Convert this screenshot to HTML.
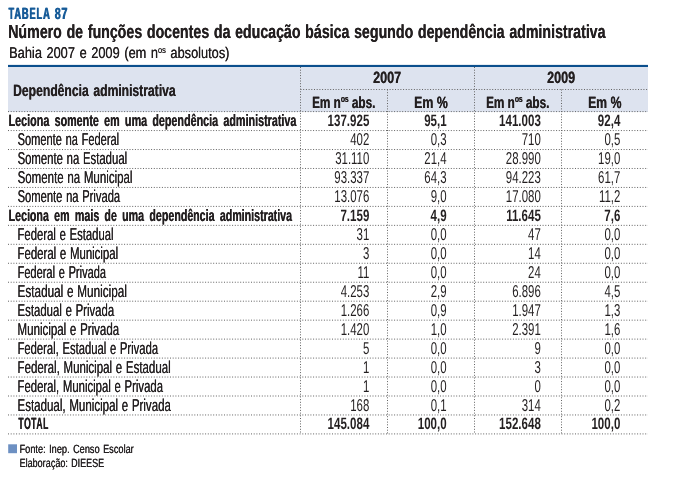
<!DOCTYPE html><html><head><meta charset="utf-8"><title>Tabela 87</title><style>
html,body{margin:0;padding:0;background:#fff;}body{width:700px;height:503px;overflow:hidden;position:relative;}
svg{position:absolute;left:0;top:0;font-family:"Liberation Sans",sans-serif;text-rendering:geometricPrecision;}
.b{font-weight:bold}
</style></head><body>
<svg width="700" height="503" viewBox="0 0 700 503">
<rect x="8" y="67" width="640" height="45.00" fill="#dde3ef"/>
<rect x="8" y="64.9" width="640" height="2.1" fill="#0b4f8d"/>
<g stroke="#636363" stroke-width="1" stroke-dasharray="1 1.7" fill="none">
<line x1="8" y1="111.60" x2="648" y2="111.60"/>
<line x1="8" y1="130.56" x2="648" y2="130.56"/>
<line x1="8" y1="149.52" x2="648" y2="149.52"/>
<line x1="8" y1="168.48" x2="648" y2="168.48"/>
<line x1="8" y1="187.44" x2="648" y2="187.44"/>
<line x1="8" y1="206.40" x2="648" y2="206.40"/>
<line x1="8" y1="225.36" x2="648" y2="225.36"/>
<line x1="8" y1="244.32" x2="648" y2="244.32"/>
<line x1="8" y1="263.28" x2="648" y2="263.28"/>
<line x1="8" y1="282.24" x2="648" y2="282.24"/>
<line x1="8" y1="301.20" x2="648" y2="301.20"/>
<line x1="8" y1="320.16" x2="648" y2="320.16"/>
<line x1="8" y1="339.12" x2="648" y2="339.12"/>
<line x1="8" y1="358.08" x2="648" y2="358.08"/>
<line x1="8" y1="377.04" x2="648" y2="377.04"/>
<line x1="8" y1="396.00" x2="648" y2="396.00"/>
<line x1="8" y1="414.96" x2="648" y2="414.96"/>
<line x1="8" y1="433.92" x2="648" y2="433.92"/>
<line x1="300.5" y1="89.5" x2="648" y2="89.5"/>
<line x1="300.5" y1="67" x2="300.5" y2="433.92"/>
<line x1="387.5" y1="89.5" x2="387.5" y2="433.92"/>
<line x1="474.5" y1="67" x2="474.5" y2="433.92"/>
<line x1="561.5" y1="89.5" x2="561.5" y2="433.92"/>
</g>
<rect x="8.2" y="444.3" width="8.8" height="8.9" fill="#6d90c2"/>
<g fill="#231f20" style="filter:blur(0.3px)">
<text transform="translate(8.18,19) scale(0.5715,1)" font-size="16.3" class="b" fill="#175b98" style="letter-spacing:1.5px;" xml:space="preserve">TABELA</text>
<text transform="translate(8.78,19) scale(0.5715,1)" font-size="16.3" class="b" fill="#175b98" style="letter-spacing:1.5px;" xml:space="preserve">TABELA</text>
<text transform="translate(54.50,19) scale(0.6628,1)" font-size="16.3" class="b" fill="#175b98" style="letter-spacing:0.8px;" xml:space="preserve">87</text>
<text transform="translate(55.10,19) scale(0.6628,1)" font-size="16.3" class="b" fill="#175b98" style="letter-spacing:0.8px;" xml:space="preserve">87</text>
<text transform="translate(8.13,38) scale(0.7466,1)" font-size="19" class="b" style="word-spacing:1.01px;" xml:space="preserve">Número de funções docentes da educação básica segundo dependência administrativa</text>
<text transform="translate(8.37,38) scale(0.7466,1)" font-size="19" class="b" style="word-spacing:1.01px;" xml:space="preserve">Número de funções docentes da educação básica segundo dependência administrativa</text>
<text transform="translate(9.08,58) scale(0.8201,1)" font-size="15.6" style="word-spacing:1.27px;" xml:space="preserve">Bahia 2007 e 2009 (em n<tspan font-size="9.05" dy="-5.38">os</tspan><tspan dy="5.38"> absolutos)</tspan></text>
<text transform="translate(9.28,58) scale(0.8201,1)" font-size="15.6" style="word-spacing:1.27px;" xml:space="preserve">Bahia 2007 e 2009 (em n<tspan font-size="9.05" dy="-5.38">os</tspan><tspan dy="5.38"> absolutos)</tspan></text>
<text transform="translate(13.09,96) scale(0.7405,1)" font-size="16.4" class="b" style="word-spacing:1.65px;" xml:space="preserve">Dependência administrativa</text>
<text transform="translate(13.33,96) scale(0.7405,1)" font-size="16.4" class="b" style="word-spacing:1.65px;" xml:space="preserve">Dependência administrativa</text>
<text transform="translate(372.89,83) scale(0.7695,1)" font-size="16.4" class="b" xml:space="preserve">2007</text>
<text transform="translate(373.13,83) scale(0.7695,1)" font-size="16.4" class="b" xml:space="preserve">2007</text>
<text transform="translate(546.96,83) scale(0.7653,1)" font-size="16.4" class="b" xml:space="preserve">2009</text>
<text transform="translate(547.20,83) scale(0.7653,1)" font-size="16.4" class="b" xml:space="preserve">2009</text>
<text transform="translate(311.96,108) scale(0.7157,1)" font-size="16.4" class="b" xml:space="preserve">Em n<tspan font-size="9.51" dy="-5.66">os</tspan><tspan dy="5.66"> abs.</tspan></text>
<text transform="translate(312.20,108) scale(0.7157,1)" font-size="16.4" class="b" xml:space="preserve">Em n<tspan font-size="9.51" dy="-5.66">os</tspan><tspan dy="5.66"> abs.</tspan></text>
<text transform="translate(485.96,108) scale(0.7157,1)" font-size="16.4" class="b" xml:space="preserve">Em n<tspan font-size="9.51" dy="-5.66">os</tspan><tspan dy="5.66"> abs.</tspan></text>
<text transform="translate(486.20,108) scale(0.7157,1)" font-size="16.4" class="b" xml:space="preserve">Em n<tspan font-size="9.51" dy="-5.66">os</tspan><tspan dy="5.66"> abs.</tspan></text>
<text transform="translate(414.07,108) scale(0.7510,1)" font-size="16.4" class="b" xml:space="preserve">Em %</text>
<text transform="translate(414.31,108) scale(0.7510,1)" font-size="16.4" class="b" xml:space="preserve">Em %</text>
<text transform="translate(587.91,108) scale(0.7489,1)" font-size="16.4" class="b" xml:space="preserve">Em %</text>
<text transform="translate(588.15,108) scale(0.7489,1)" font-size="16.4" class="b" xml:space="preserve">Em %</text>
<text transform="translate(8.54,126) scale(0.6518,1)" font-size="16.5" class="b" style="word-spacing:3.54px;" xml:space="preserve">Leciona somente em uma dependência administrativa</text>
<text transform="translate(8.78,126) scale(0.6518,1)" font-size="16.5" class="b" style="word-spacing:3.54px;" xml:space="preserve">Leciona somente em uma dependência administrativa</text>
<text transform="translate(327.58,126) scale(0.6995,1)" font-size="16.5" class="b" xml:space="preserve">137.925</text>
<text transform="translate(424.14,126) scale(0.6995,1)" font-size="16.5" class="b" xml:space="preserve">95,1</text>
<text transform="translate(499.08,126) scale(0.6995,1)" font-size="16.5" class="b" xml:space="preserve">141.003</text>
<text transform="translate(597.84,126) scale(0.6995,1)" font-size="16.5" class="b" xml:space="preserve">92,4</text>
<text transform="translate(17.50,145) scale(0.6440,1)" font-size="17.2" style="word-spacing:0.96px;" xml:space="preserve">Somente na Federal</text>
<text transform="translate(17.66,145) scale(0.6440,1)" font-size="17.2" style="word-spacing:0.96px;" xml:space="preserve">Somente na Federal</text>
<text transform="translate(350.23,145) scale(0.6651,1)" font-size="17.2" xml:space="preserve">402</text>
<text transform="translate(430.71,145) scale(0.6651,1)" font-size="17.2" xml:space="preserve">0,3</text>
<text transform="translate(521.73,145) scale(0.6651,1)" font-size="17.2" xml:space="preserve">710</text>
<text transform="translate(604.41,145) scale(0.6651,1)" font-size="17.2" xml:space="preserve">0,5</text>
<text transform="translate(17.48,164) scale(0.6601,1)" font-size="17.2" style="word-spacing:0.82px;" xml:space="preserve">Somente na Estadual</text>
<text transform="translate(17.64,164) scale(0.6601,1)" font-size="17.2" style="word-spacing:0.82px;" xml:space="preserve">Somente na Estadual</text>
<text transform="translate(335.19,164) scale(0.6651,1)" font-size="17.2" xml:space="preserve">31.110</text>
<text transform="translate(424.35,164) scale(0.6651,1)" font-size="17.2" xml:space="preserve">21,4</text>
<text transform="translate(505.84,164) scale(0.6651,1)" font-size="17.2" xml:space="preserve">28.990</text>
<text transform="translate(598.05,164) scale(0.6651,1)" font-size="17.2" xml:space="preserve">19,0</text>
<text transform="translate(17.54,183) scale(0.6694,1)" font-size="17.2" style="word-spacing:0.75px;" xml:space="preserve">Somente na Municipal</text>
<text transform="translate(17.70,183) scale(0.6694,1)" font-size="17.2" style="word-spacing:0.75px;" xml:space="preserve">Somente na Municipal</text>
<text transform="translate(334.34,183) scale(0.6651,1)" font-size="17.2" xml:space="preserve">93.337</text>
<text transform="translate(424.35,183) scale(0.6651,1)" font-size="17.2" xml:space="preserve">64,3</text>
<text transform="translate(505.84,183) scale(0.6651,1)" font-size="17.2" xml:space="preserve">94.223</text>
<text transform="translate(598.05,183) scale(0.6651,1)" font-size="17.2" xml:space="preserve">61,7</text>
<text transform="translate(17.49,202) scale(0.6512,1)" font-size="17.2" style="word-spacing:0.90px;" xml:space="preserve">Somente na Privada</text>
<text transform="translate(17.65,202) scale(0.6512,1)" font-size="17.2" style="word-spacing:0.90px;" xml:space="preserve">Somente na Privada</text>
<text transform="translate(334.34,202) scale(0.6651,1)" font-size="17.2" xml:space="preserve">13.076</text>
<text transform="translate(430.71,202) scale(0.6651,1)" font-size="17.2" xml:space="preserve">9,0</text>
<text transform="translate(505.84,202) scale(0.6651,1)" font-size="17.2" xml:space="preserve">17.080</text>
<text transform="translate(598.90,202) scale(0.6651,1)" font-size="17.2" xml:space="preserve">11,2</text>
<text transform="translate(8.55,221) scale(0.6456,1)" font-size="16.5" class="b" style="word-spacing:3.62px;" xml:space="preserve">Leciona em mais de uma dependência administrativa</text>
<text transform="translate(8.79,221) scale(0.6456,1)" font-size="16.5" class="b" style="word-spacing:3.62px;" xml:space="preserve">Leciona em mais de uma dependência administrativa</text>
<text transform="translate(340.42,221) scale(0.6995,1)" font-size="16.5" class="b" xml:space="preserve">7.159</text>
<text transform="translate(430.55,221) scale(0.6995,1)" font-size="16.5" class="b" xml:space="preserve">4,9</text>
<text transform="translate(506.13,221) scale(0.6995,1)" font-size="16.5" class="b" xml:space="preserve">11.645</text>
<text transform="translate(604.25,221) scale(0.6995,1)" font-size="16.5" class="b" xml:space="preserve">7,6</text>
<text transform="translate(17.46,240) scale(0.6578,1)" font-size="17.2" style="word-spacing:0.84px;" xml:space="preserve">Federal e Estadual</text>
<text transform="translate(17.62,240) scale(0.6578,1)" font-size="17.2" style="word-spacing:0.84px;" xml:space="preserve">Federal e Estadual</text>
<text transform="translate(356.59,240) scale(0.6651,1)" font-size="17.2" xml:space="preserve">31</text>
<text transform="translate(430.71,240) scale(0.6651,1)" font-size="17.2" xml:space="preserve">0,0</text>
<text transform="translate(528.09,240) scale(0.6651,1)" font-size="17.2" xml:space="preserve">47</text>
<text transform="translate(604.41,240) scale(0.6651,1)" font-size="17.2" xml:space="preserve">0,0</text>
<text transform="translate(17.45,259) scale(0.6640,1)" font-size="17.2" style="word-spacing:0.79px;" xml:space="preserve">Federal e Municipal</text>
<text transform="translate(17.61,259) scale(0.6640,1)" font-size="17.2" style="word-spacing:0.79px;" xml:space="preserve">Federal e Municipal</text>
<text transform="translate(362.94,259) scale(0.6651,1)" font-size="17.2" xml:space="preserve">3</text>
<text transform="translate(430.71,259) scale(0.6651,1)" font-size="17.2" xml:space="preserve">0,0</text>
<text transform="translate(528.09,259) scale(0.6651,1)" font-size="17.2" xml:space="preserve">14</text>
<text transform="translate(604.41,259) scale(0.6651,1)" font-size="17.2" xml:space="preserve">0,0</text>
<text transform="translate(17.48,278) scale(0.6426,1)" font-size="17.2" style="word-spacing:0.98px;" xml:space="preserve">Federal e Privada</text>
<text transform="translate(17.64,278) scale(0.6426,1)" font-size="17.2" style="word-spacing:0.98px;" xml:space="preserve">Federal e Privada</text>
<text transform="translate(357.43,278) scale(0.6651,1)" font-size="17.2" xml:space="preserve">11</text>
<text transform="translate(430.71,278) scale(0.6651,1)" font-size="17.2" xml:space="preserve">0,0</text>
<text transform="translate(528.09,278) scale(0.6651,1)" font-size="17.2" xml:space="preserve">24</text>
<text transform="translate(604.41,278) scale(0.6651,1)" font-size="17.2" xml:space="preserve">0,0</text>
<text transform="translate(17.43,297) scale(0.6847,1)" font-size="17.2" style="word-spacing:0.62px;" xml:space="preserve">Estadual e Municipal</text>
<text transform="translate(17.59,297) scale(0.6847,1)" font-size="17.2" style="word-spacing:0.62px;" xml:space="preserve">Estadual e Municipal</text>
<text transform="translate(340.70,297) scale(0.6651,1)" font-size="17.2" xml:space="preserve">4.253</text>
<text transform="translate(430.71,297) scale(0.6651,1)" font-size="17.2" xml:space="preserve">2,9</text>
<text transform="translate(512.20,297) scale(0.6651,1)" font-size="17.2" xml:space="preserve">6.896</text>
<text transform="translate(604.41,297) scale(0.6651,1)" font-size="17.2" xml:space="preserve">4,5</text>
<text transform="translate(17.46,316) scale(0.6625,1)" font-size="17.2" style="word-spacing:0.80px;" xml:space="preserve">Estadual e Privada</text>
<text transform="translate(17.62,316) scale(0.6625,1)" font-size="17.2" style="word-spacing:0.80px;" xml:space="preserve">Estadual e Privada</text>
<text transform="translate(340.70,316) scale(0.6651,1)" font-size="17.2" xml:space="preserve">1.266</text>
<text transform="translate(430.71,316) scale(0.6651,1)" font-size="17.2" xml:space="preserve">0,9</text>
<text transform="translate(512.20,316) scale(0.6651,1)" font-size="17.2" xml:space="preserve">1.947</text>
<text transform="translate(604.41,316) scale(0.6651,1)" font-size="17.2" xml:space="preserve">1,3</text>
<text transform="translate(17.45,335) scale(0.6711,1)" font-size="17.2" style="word-spacing:0.73px;" xml:space="preserve">Municipal e Privada</text>
<text transform="translate(17.61,335) scale(0.6711,1)" font-size="17.2" style="word-spacing:0.73px;" xml:space="preserve">Municipal e Privada</text>
<text transform="translate(340.70,335) scale(0.6651,1)" font-size="17.2" xml:space="preserve">1.420</text>
<text transform="translate(430.71,335) scale(0.6651,1)" font-size="17.2" xml:space="preserve">1,0</text>
<text transform="translate(512.20,335) scale(0.6651,1)" font-size="17.2" xml:space="preserve">2.391</text>
<text transform="translate(604.41,335) scale(0.6651,1)" font-size="17.2" xml:space="preserve">1,6</text>
<text transform="translate(17.47,354) scale(0.6544,1)" font-size="17.2" style="word-spacing:0.87px;" xml:space="preserve">Federal, Estadual e Privada</text>
<text transform="translate(17.63,354) scale(0.6544,1)" font-size="17.2" style="word-spacing:0.87px;" xml:space="preserve">Federal, Estadual e Privada</text>
<text transform="translate(362.94,354) scale(0.6651,1)" font-size="17.2" xml:space="preserve">5</text>
<text transform="translate(430.71,354) scale(0.6651,1)" font-size="17.2" xml:space="preserve">0,0</text>
<text transform="translate(534.44,354) scale(0.6651,1)" font-size="17.2" xml:space="preserve">9</text>
<text transform="translate(604.41,354) scale(0.6651,1)" font-size="17.2" xml:space="preserve">0,0</text>
<text transform="translate(17.45,373) scale(0.6699,1)" font-size="17.2" style="word-spacing:0.74px;" xml:space="preserve">Federal, Municipal e Estadual</text>
<text transform="translate(17.61,373) scale(0.6699,1)" font-size="17.2" style="word-spacing:0.74px;" xml:space="preserve">Federal, Municipal e Estadual</text>
<text transform="translate(362.94,373) scale(0.6651,1)" font-size="17.2" xml:space="preserve">1</text>
<text transform="translate(430.71,373) scale(0.6651,1)" font-size="17.2" xml:space="preserve">0,0</text>
<text transform="translate(534.44,373) scale(0.6651,1)" font-size="17.2" xml:space="preserve">3</text>
<text transform="translate(604.41,373) scale(0.6651,1)" font-size="17.2" xml:space="preserve">0,0</text>
<text transform="translate(17.46,392) scale(0.6605,1)" font-size="17.2" style="word-spacing:0.82px;" xml:space="preserve">Federal, Municipal e Privada</text>
<text transform="translate(17.62,392) scale(0.6605,1)" font-size="17.2" style="word-spacing:0.82px;" xml:space="preserve">Federal, Municipal e Privada</text>
<text transform="translate(362.94,392) scale(0.6651,1)" font-size="17.2" xml:space="preserve">1</text>
<text transform="translate(430.71,392) scale(0.6651,1)" font-size="17.2" xml:space="preserve">0,0</text>
<text transform="translate(534.44,392) scale(0.6651,1)" font-size="17.2" xml:space="preserve">0</text>
<text transform="translate(604.41,392) scale(0.6651,1)" font-size="17.2" xml:space="preserve">0,0</text>
<text transform="translate(17.45,411) scale(0.6711,1)" font-size="17.2" style="word-spacing:0.73px;" xml:space="preserve">Estadual, Municipal e Privada</text>
<text transform="translate(17.61,411) scale(0.6711,1)" font-size="17.2" style="word-spacing:0.73px;" xml:space="preserve">Estadual, Municipal e Privada</text>
<text transform="translate(350.23,411) scale(0.6651,1)" font-size="17.2" xml:space="preserve">168</text>
<text transform="translate(430.71,411) scale(0.6651,1)" font-size="17.2" xml:space="preserve">0,1</text>
<text transform="translate(521.73,411) scale(0.6651,1)" font-size="17.2" xml:space="preserve">314</text>
<text transform="translate(604.41,411) scale(0.6651,1)" font-size="17.2" xml:space="preserve">0,2</text>
<text transform="translate(18.28,429) scale(0.5213,1)" font-size="16.5" class="b" style="letter-spacing:1.0px;" xml:space="preserve">TOTAL</text>
<text transform="translate(18.52,429) scale(0.5213,1)" font-size="16.5" class="b" style="letter-spacing:1.0px;" xml:space="preserve">TOTAL</text>
<text transform="translate(327.58,429) scale(0.6995,1)" font-size="16.5" class="b" xml:space="preserve">145.084</text>
<text transform="translate(417.72,429) scale(0.6995,1)" font-size="16.5" class="b" xml:space="preserve">100,0</text>
<text transform="translate(499.08,429) scale(0.6995,1)" font-size="16.5" class="b" xml:space="preserve">152.648</text>
<text transform="translate(591.42,429) scale(0.6995,1)" font-size="16.5" class="b" xml:space="preserve">100,0</text>
<text transform="translate(19.51,453) scale(0.7651,1)" font-size="12" style="word-spacing:1.24px;" xml:space="preserve">Fonte: Inep. Censo Escolar</text>
<text transform="translate(19.75,453) scale(0.7651,1)" font-size="12" style="word-spacing:1.24px;" xml:space="preserve">Fonte: Inep. Censo Escolar</text>
<text transform="translate(19.54,467) scale(0.7520,1)" font-size="12" style="word-spacing:1.05px;" xml:space="preserve">Elaboração: DIEESE</text>
<text transform="translate(19.78,467) scale(0.7520,1)" font-size="12" style="word-spacing:1.05px;" xml:space="preserve">Elaboração: DIEESE</text>
</g></svg></body></html>
